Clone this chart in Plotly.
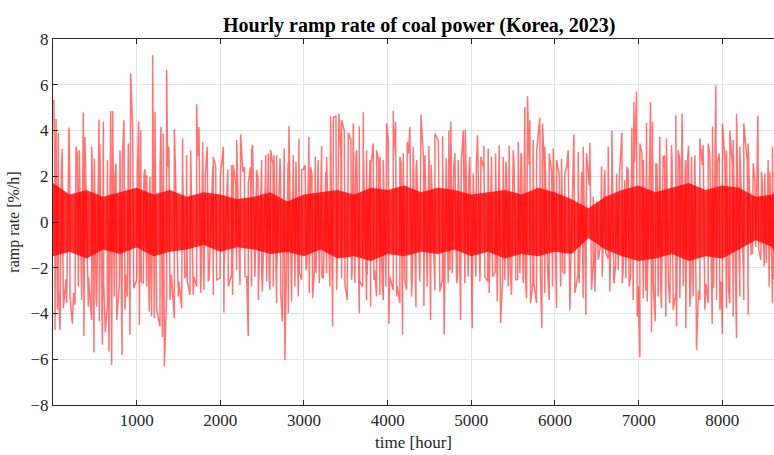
import plotly.graph_objects as go

# Large positive spikes (hour, ramp rate %/h)
peak_hours = [10, 36, 64, 100, 191, 275, 315, 362, 382, 462, 494, 550, 602, 689, 713, 753, 801, 848, 900, 928,
              952, 1024, 1048, 1088, 1120, 1159, 1191, 1219, 1291, 1319, 1358, 1386, 1450, 1549, 1597, 1645, 1717,
              1745, 1789, 1844, 1916, 1944, 2036, 2135, 2155, 2195, 2243, 2287, 2334, 2374, 2386, 2434, 2494, 2542,
              2573, 2601, 2641, 2673, 2713, 2764, 2820, 2872, 2904, 2940, 2972, 3015, 3059, 3095, 3135, 3171, 3211,
              3270, 3318, 3350, 3382, 3418, 3450, 3482, 3530, 3561, 3589, 3629, 3661, 3709, 3748, 3788, 3828, 3868,
              3908, 3948, 3987, 4007, 4067, 4095, 4146, 4186, 4234, 4266, 4306, 4346, 4398, 4446, 4493, 4565, 4605,
              4656, 4697, 4732, 4756, 4804, 4844, 4904, 4928, 4983, 5023, 5075, 5115, 5150, 5202, 5242, 5290, 5334,
              5381, 5413, 5453, 5501, 5561, 5593, 5640, 5672, 5700, 5740, 5780, 5819, 5851, 5879, 5931, 5979, 6019,
              6079, 6118, 6158, 6226, 6278, 6337, 6377, 6417, 6457, 6497, 6557, 6596, 6636, 6680, 6736, 6800, 6835,
              6875, 6919, 6943, 6975, 7015, 7055, 7094, 7142, 7166, 7206, 7253, 7293, 7333, 7393, 7445, 7473, 7520,
              7560, 7596, 7632, 7672, 7732, 7772, 7831, 7883, 7923, 7963, 8002, 8050, 8090, 8130, 8170, 8210, 8257,
              8309, 8369, 8425, 8469, 8508, 8548, 8600]
peak_values = [5.33, 4.5, 3.9, 2.1, 4.13, 3.29, 3.14, 4.79, 3.73, 3.29, 2.78, 4.48, 4.38, 4.85, 4.85, 2.56, 3.14, 4.45,
               3.43, 6.49, 4.09, 4.38, 4.0, 2.12, 2.05, 1.98, 7.3, 4.82, 4.16, 3.87, 6.64, 3.29, 4.06, 3.65, 2.92, 3.14,
               5.15, 4.16, 3.51, 3.29, 2.85, 2.41, 3.29, 2.49, 2.49, 3.58, 3.83, 2.41, 1.69, 3.14, 3.36, 2.27, 2.71,
               2.92, 3.0, 3.14, 2.92, 2.92, 2.78, 3.21, 4.2, 2.92, 2.63, 3.65, 2.27, 2.49, 3.73, 2.12, 2.85, 1.83, 3.32,
               2.85, 4.63, 4.57, 4.63, 4.74, 4.45, 4.0, 3.9, 3.58, 4.31, 3.14, 4.19, 4.8, 3.14, 2.71, 3.43, 3.14, 2.85,
               2.71, 4.31, 3.58, 4.86, 4.38, 2.85, 3.0, 3.51, 4.16, 3.29, 2.71, 4.7, 2.92, 3.32, 3.87, 3.58, 3.75,
               2.56, 4.0, 4.38, 3.0, 2.71, 4.0, 4.03, 2.85, 2.12, 3.79, 2.85, 3.32, 3.21, 2.85, 3.0, 3.36, 2.85, 2.63,
               3.32, 3.14, 3.51, 3.0, 5.03, 5.5, 4.45, 3.58, 3.07, 4.56, 4.31, 3.29, 3.0, 3.21, 2.71, 2.78, 2.12, 3.14,
               3.84, 3.07, 3.29, 3.0, 3.46, 1.1, 0.67, 2.44, 2.27, 3.29, 3.99, 2.12, 3.9, 1.83, 2.27, 4.13, 5.25, 5.69,
               3.43, 2.71, 4.34, 5.25, 4.38, 2.56, 3.73, 2.85, 3.65, 3.36, 4.67, 3.14, 4.74, 2.71, 3.32, 2.85, 2.92,
               3.65, 3.36, 3.43, 4.19, 5.98, 3.0, 4.31, 3.14, 3.99, 3.58, 4.72, 3.29, 4.31, 3.43, 2.56, 4.64, 2.2,
               2.12, 2.71, 3.29]

# Large negative spikes (hour, ramp rate %/h)
trough_hours = [24, 52, 84, 124, 163, 203, 231, 263, 303, 343, 370, 422, 462, 490, 522, 554, 590, 626, 649, 669, 701,
                733, 761, 793, 825, 860, 888, 920, 960, 1000, 1032, 1080, 1120, 1151, 1179, 1211, 1239, 1279, 1307,
                1331, 1358, 1398, 1450, 1498, 1538, 1577, 1605, 1637, 1677, 1717, 1765, 1804, 1856, 1916, 1956, 1996,
                2043, 2095, 2147, 2195, 2235, 2295, 2334, 2374, 2414, 2454, 2502, 2554, 2593, 2633, 2673, 2721, 2741,
                2772, 2812, 2852, 2892, 2932, 2972, 3024, 3063, 3103, 3143, 3183, 3231, 3270, 3310, 3342, 3390, 3450,
                3490, 3517, 3569, 3609, 3661, 3701, 3748, 3796, 3836, 3868, 3908, 3948, 3979, 4015, 4067, 4107, 4146,
                4178, 4226, 4286, 4338, 4386, 4433, 4473, 4513, 4565, 4624, 4676, 4724, 4772, 4824, 4872, 4923, 4963,
                5011, 5055, 5103, 5162, 5214, 5254, 5310, 5350, 5401, 5441, 5481, 5533, 5581, 5620, 5660, 5708, 5748,
                5780, 5843, 5879, 5931, 5971, 6019, 6067, 6118, 6178, 6238, 6290, 6337, 6369, 6437, 6477, 6517, 6565,
                6608, 6656, 6704, 6756, 6804, 6847, 6887, 6935, 6983, 7015, 7055, 7102, 7154, 7198, 7234, 7273, 7325,
                7373, 7413, 7453, 7492, 7564, 7612, 7652, 7692, 7732, 7791, 7831, 7879, 7931, 7971, 8002, 8050, 8090,
                8130, 8170, 8210, 8257, 8309, 8361, 8401, 8460, 8500, 8560, 8600]
trough_values = [-4.72, -3.84, -4.72, -3.77, -3.55, -3.26, -4.45, -3.62, -2.82, -3.41, -4.98, -3.7, -4.28, -5.71, -3.7,
                 -4.35, -5.37, -4.83, -3.62, -5.66, -6.25, -3.26, -4.28, -2.75, -5.81, -3.84, -3.26, -4.93, -2.82, -2.53,
                 -4.5, -2.68, -2.82, -3.92, -4.13, -4.2, -3.84, -4.57, -5.04, -6.32, -3.26, -3.41, -4.2, -3.26, -3.77,
                 -2.46, -2.6, -3.19, -3.19, -2.82, -3.1, -2.97, -2.6, -3.19, -2.53, -2.46, -3.96, -2.82, -3.19, -2.1,
                 -2.75, -2.39, -4.98, -2.82, -2.39, -3.41, -3.04, -2.6, -2.97, -2.82, -3.55, -3.04, -4.35, -6.03, -3.99,
                 -3.48, -2.82, -3.26, -2.53, -2.1, -3.1, -3.33, -2.24, -2.68, -2.46, -2.24, -2.82, -4.57, -2.97, -2.46,
                 -2.75, -3.41, -2.53, -2.68, -3.99, -2.82, -3.41, -3.7, -2.53, -3.26, -3.19, -3.41, -2.82, -4.45, -2.97,
                 -3.26, -3.55, -4.93, -2.97, -3.26, -3.73, -2.6, -3.67, -2.82, -4.28, -2.97, -3.04, -4.93, -2.68, -2.24,
                 -2.68, -4.28, -2.68, -2.39, -4.64, -2.39, -2.6, -2.39, -3.1, -2.39, -3.48, -4.42, -2.53, -2.82, -3.19,
                 -2.53, -2.24, -2.68, -3.33, -3.55, -2.68, -3.55, -4.64, -3.1, -3.41, -2.82, -3.77, -2.82, -2.24, -3.87,
                 -3.1, -2.68, -3.33, -4.06, -2.97, -3.04, -1.66, -2.39, -1.37, -3.04, -2.68, -2.1, -2.68, -2.46, -2.82,
                 -3.41, -4.13, -5.91, -3.33, -3.48, -4.82, -4.35, -3.26, -3.77, -4.13, -3.55, -3.84, -4.57, -3.33,
                 -4.64, -3.7, -3.26, -5.59, -3.41, -3.84, -3.55, -4.45, -3.41, -3.84, -4.89, -3.77, -3.55, -4.13, -5.08,
                 -3.26, -3.41, -4.06, -1.37, -1.08, -1.66, -1.95, -2.82, -3.55]

# Medium-size positive spikes (estimated from the dense texture), hours 20, 110, ..., 8570
mid_pos_hours = list(range(20, 8571, 90))
mid_pos_values = [2.8, 3.2, 2.4, 3.0, 2.6, 2.2, 3.4, 2.7, 2.0, 2.9, 3.1, 2.5, 2.3, 3.0, 2.6, 2.4, 2.8, 2.2, 2.5, 2.9,
                  2.1, 2.4,
                  2.0, 2.3, 1.8, 2.2, 2.4, 1.9, 2.1, 2.5, 2.0, 2.6, 2.2, 2.3,
                  2.4, 2.7, 2.2, 2.9, 3.0, 2.6, 2.8, 3.1, 2.5, 2.7, 2.3, 2.9, 2.6, 3.0, 2.4, 2.7,
                  2.5, 2.2, 2.8, 2.4, 2.6, 2.1, 2.5, 2.3, 2.7, 2.2, 2.4, 2.6, 2.9, 2.5, 2.3, 2.6, 2.2,
                  2.1, 2.4, 2.0, 2.2, 1.6, 0.9,
                  1.8, 2.2, 2.0, 2.4, 2.6, 3.0, 2.7, 2.5, 2.9, 2.6, 2.8, 2.4, 2.7, 2.5, 3.0, 2.6, 2.8, 2.5, 2.9, 2.6,
                  1.8, 1.6, 2.2]

# Medium-size negative spikes (estimated from the dense texture), hours 65, 155, ..., 8615
mid_neg_hours = list(range(65, 8616, 90))
mid_neg_values = [-2.9, -2.5, -3.1, -2.7, -2.4, -3.3, -2.6, -3.0, -2.8, -2.3, -2.9, -2.6, -3.2, -2.5, -2.7, -2.3,
                  -2.6, -2.2, -2.4, -2.1, -2.5, -2.2,
                  -2.0, -2.3, -2.1, -2.4, -1.9, -2.2, -2.5, -2.1, -2.3, -2.0, -2.2, -1.9,
                  -2.1, -2.4, -2.0, -2.3, -2.5, -2.2, -2.6, -2.3, -2.1, -2.7, -2.4, -2.8, -2.5, -2.3, -2.6, -2.4,
                  -2.3, -2.5, -2.1, -2.4, -2.2, -2.0, -2.3, -2.6, -2.2, -2.4, -2.1, -2.5, -2.3, -2.7, -2.2, -2.4, -2.5,
                  -2.2, -2.5, -2.3, -2.6, -1.8, -1.0,
                  -1.6, -1.9, -2.1, -2.4, -2.8, -3.0, -2.7, -2.9, -2.6, -3.1, -2.8, -2.5, -3.0, -2.7, -2.9, -2.6,
                  -3.0, -2.8, -2.6, -1.4,
                  -1.2, -1.8, -2.5]

# Envelope of the dense (saturated) core of the series
core_hours = [0, 200, 400, 600, 800, 1000, 1200, 1400, 1600, 1800, 2000, 2200, 2400, 2600, 2800, 3000, 3200, 3400,
              3600, 3800, 4000, 4200, 4400, 4600, 4800, 5000, 5200, 5400, 5600, 5800, 6000, 6200, 6400, 6600, 6800,
              7000, 7200, 7400, 7600, 7800, 8000, 8200, 8400, 8600, 8618]
core_hi = [1.7, 1.2, 1.4, 1.1, 1.3, 1.5, 1.2, 1.4, 1.1, 1.3, 1.2, 1.0, 1.1, 1.3, 0.9, 1.2, 1.3, 1.4, 1.2, 1.5, 1.4,
           1.6, 1.3, 1.5, 1.4, 1.2, 1.3, 1.4, 1.2, 1.5, 1.3, 1.0, 0.6, 1.1, 1.4, 1.6, 1.3, 1.5, 1.7, 1.4, 1.6, 1.5,
           1.1, 1.2, 1.3]
core_lo = [-1.5, -1.3, -1.6, -1.2, -1.4, -1.1, -1.5, -1.3, -1.2, -1.0, -1.3, -1.1, -1.2, -1.4, -1.3, -1.5, -1.2, -1.6,
           -1.5, -1.7, -1.4, -1.5, -1.3, -1.4, -1.2, -1.5, -1.3, -1.6, -1.4, -1.5, -1.3, -1.4, -0.7, -1.2, -1.5, -1.7,
           -1.6, -1.4, -1.7, -1.5, -1.6, -1.2, -0.8, -1.1, -1.3]

x_ticks = [1000, 2000, 3000, 4000, 5000, 6000, 7000, 8000]
y_ticks = [-8, -6, -4, -2, 0, 2, 4, 6, 8]

# merge all spikes in time order
pairs = sorted(list(zip(peak_hours, peak_values)) + list(zip(trough_hours, trough_values))
               + list(zip(mid_pos_hours, mid_pos_values)) + list(zip(mid_neg_hours, mid_neg_values)))
hours = [p[0] for p in pairs]
values = [p[1] for p in pairs]

fig = go.Figure()
fig.add_trace(go.Scatter(x=core_hours, y=core_lo, mode="lines", line=dict(width=0, color="rgba(255,0,0,0)"),
                         showlegend=False, hoverinfo="skip"))
fig.add_trace(go.Scatter(x=core_hours, y=core_hi, mode="lines", line=dict(width=0, color="rgba(255,0,0,0)"),
                         fill="tonexty", fillcolor="rgba(255,0,0,0.8)", showlegend=False, hoverinfo="skip"))
fig.add_trace(go.Scatter(x=hours, y=values, mode="lines", line=dict(color="rgba(255,0,0,0.55)", width=1.5),
                         showlegend=False))

font_family = "Liberation Serif, Times New Roman, serif"
fig.update_layout(
    width=774, height=455,
    margin=dict(l=53, r=0, t=39, b=50),
    paper_bgcolor="white", plot_bgcolor="white",
    font=dict(family=font_family, size=17, color="#262626"),
    title=dict(text="<b>Hourly ramp rate of coal power (Korea, 2023)</b>", xref="paper", x=0.508, xanchor="center",
               yref="container", y=0.945, yanchor="middle", font=dict(size=20, color="#000000", family=font_family)),
    xaxis=dict(range=[0, 8618], tickvals=x_ticks, ticks="inside", ticklen=5, tickcolor="#262626",
               showline=True, linecolor="#262626", linewidth=1, mirror="ticks",
               showgrid=True, gridcolor="#e3e3e3", gridwidth=1, zeroline=False,
               title=dict(text="time [hour]", font=dict(size=17), standoff=6)),
    yaxis=dict(range=[-8, 8], tickvals=y_ticks, ticks="inside", ticklen=5, tickcolor="#262626",
               showline=True, linecolor="#262626", linewidth=1,
               showgrid=True, gridcolor="#e3e3e3", gridwidth=1, zeroline=False,
               title=dict(text="ramp rate [%/h]", font=dict(size=16), standoff=6)),
)

fig.write_html("out.html")
